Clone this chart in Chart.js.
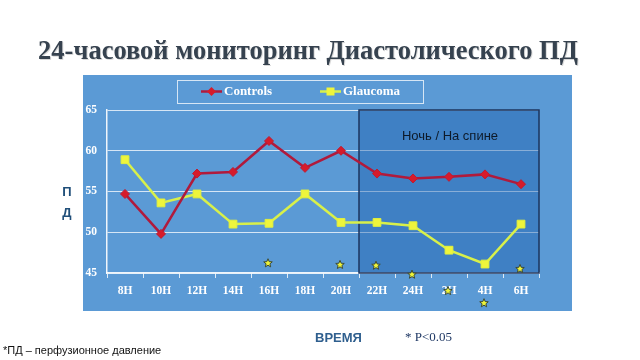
<!DOCTYPE html>
<html>
<head>
<meta charset="utf-8">
<script src="https://cdn.jsdelivr.net/npm/chart.js@4/dist/chart.umd.min.js"></script>
<style>
  html, body { margin: 0; padding: 0; background: #fff; }
  #wrap { width: 640px; height: 360px; position: relative; }
</style>
</head>
<body>
<div id="wrap"><canvas id="chartDPD" width="640" height="360"></canvas></div>
<script>
const hours = ['8H', '10H', '12H', '14H', '16H', '18H', '20H', '22H', '24H', '2H', '4H', '6H'];
const controls = [54.7, 49.8, 57.2, 57.4, 61.2, 57.9, 60.0, 57.2, 56.6, 56.8, 57.1, 55.9];
const glaucoma = [58.9, 53.6, 54.7, 51.0, 51.1, 54.7, 51.2, 51.2, 50.8, 47.8, 46.1, 51.0];
// звёздочки p<0.05 (положение по оси Y, как на слайде)
const starMarks = [null, null, null, null, 46.2, null, 46.0, 45.9, 44.8, 42.8, 41.3, 45.5];
const yTicks = [45, 50, 55, 60, 65];
const nightFrom = '20H';

// жёлтая звёздочка с тёмным контуром
function drawStar(g, cx, cy, r) {
  g.beginPath();
  for (let i = 0; i < 10; i++) {
    const rad = i % 2 ? r * 0.45 : r;
    const a = -Math.PI / 2 + i * Math.PI / 5;
    g.lineTo(cx + rad * Math.cos(a), cy + rad * Math.sin(a));
  }
  g.closePath();
  g.fillStyle = '#ecf33a';
  g.fill();
  g.strokeStyle = '#3a4a3a';
  g.lineWidth = 1;
  g.stroke();
}

const slide = {
  id: 'slide',
  beforeDraw(chart) {
    const c = chart.ctx;
    c.save();
    c.fillStyle = '#5b9ad5';
    c.fillRect(83, 75, 489, 236);

    // заголовок
    c.font = 'bold 26.5px "Liberation Serif", "DejaVu Serif", serif';
    c.textAlign = 'center';
    c.textBaseline = 'alphabetic';
    c.fillStyle = 'rgba(0,0,0,0.15)';
    c.fillText('24-часовой мониторинг Диастолического ПД', 309, 60);
    c.fillStyle = '#36424f';
    c.fillText('24-часовой мониторинг Диастолического ПД', 308, 59);

    // подпись оси Y
    c.font = 'bold 13px "Liberation Sans", Arial, sans-serif';
    c.fillStyle = '#1f4e79';
    c.textBaseline = 'middle';
    c.fillText('П', 67, 192);
    c.fillText('Д', 67, 213);

    c.font = 'bold 13px "Liberation Sans", Arial, sans-serif';
    c.fillStyle = '#2f5f8e';
    c.textAlign = 'left';
    c.fillText('ВРЕМЯ', 315, 338);
    c.font = '13px "Liberation Serif", serif';
    c.fillStyle = '#1f3864';
    c.fillText('* P<0.05', 405, 338);
    c.font = '11px "Liberation Sans", Arial, sans-serif';
    c.fillStyle = '#111';
    c.fillText('*ПД – перфузионное давление', 3, 351);

    // легенда
    c.strokeStyle = 'rgba(255,255,255,0.75)';
    c.lineWidth = 1;
    c.strokeRect(177.5, 80.5, 246, 23);
    const ds = chart.data.datasets;
    const items = [[201, ds[0]], [320, ds[1]]];
    items.forEach(([lx, d]) => {
      c.strokeStyle = d.borderColor;
      c.lineWidth = 2.5;
      c.beginPath(); c.moveTo(lx, 91.5); c.lineTo(lx + 21, 91.5); c.stroke();
      c.fillStyle = d.pointBackgroundColor;
      if (d.pointStyle === 'rectRot') {
        c.beginPath();
        c.moveTo(lx + 10.5, 87); c.lineTo(lx + 15, 91.5); c.lineTo(lx + 10.5, 96); c.lineTo(lx + 6, 91.5);
        c.closePath(); c.fill();
      } else {
        c.fillRect(lx + 6.5, 87.5, 8, 8);
      }
      c.font = 'bold 13px "Liberation Serif", serif';
      c.fillStyle = '#fff';
      c.textAlign = 'left';
      c.fillText(d.label, lx + 23, 92);
    });
    c.restore();
  },
  beforeDatasetsDraw(chart) {
    const c = chart.ctx, x = chart.scales.x, a = chart.chartArea;
    const i = hours.indexOf(nightFrom);
    const left = (x.getPixelForValue(i) + x.getPixelForValue(i + 1)) / 2;
    const right = a.right;
    c.save();
    c.fillStyle = 'rgba(22,90,170,0.4)';
    c.fillRect(left, a.top, right - left, a.bottom - a.top);
    c.strokeStyle = '#1d355e';
    c.lineWidth = 1.5;
    c.strokeRect(left, a.top, right - left, a.bottom - a.top);
    c.font = '13px "Liberation Sans", Arial, sans-serif';
    c.fillStyle = '#0d1a2a';
    c.textAlign = 'center';
    c.textBaseline = 'middle';
    c.fillText('Ночь / На спине', (left + right) / 2 + 1, 136);
    c.restore();
  },
  afterDatasetsDraw(chart) {
    // звёздочки рисуются через шкалы, в т.ч. ниже оси X
    const c = chart.ctx, x = chart.scales.x, y = chart.scales.y;
    c.save();
    starMarks.forEach((v, i) => {
      if (v === null) return;
      drawStar(c, x.getPixelForValue(i) - 1, y.getPixelForValue(v), 4.5);
    });
    c.restore();
  }
};

const serifBold = { family: '"Liberation Serif", "Times New Roman", serif', weight: 'bold', size: 11.5 };

new Chart(document.getElementById('chartDPD').getContext('2d'), {
  type: 'line',
  data: {
    labels: hours,
    datasets: [
      {
        label: 'Controls',
        data: controls,
        borderColor: '#b01a3c',
        borderWidth: 2.5,
        pointStyle: 'rectRot',
        pointRadius: 4.5,
        pointBackgroundColor: '#d61b2b',
        pointBorderColor: '#c2192f',
        pointBorderWidth: 1,
        tension: 0
      },
      {
        label: 'Glaucoma',
        data: glaucoma,
        borderColor: '#d8f04a',
        borderWidth: 2.5,
        pointStyle: 'rect',
        pointRadius: 5.5,
        pointBackgroundColor: '#eef53c',
        pointBorderColor: '#e2f03c',
        pointBorderWidth: 1,
        tension: 0
      }
    ]
  },
  options: {
    responsive: false,
    animation: false,
    layout: { padding: { left: 0, top: 110, right: 101, bottom: 0 } },
    plugins: { legend: { display: false }, tooltip: { enabled: false } },
    scales: {
      x: {
        offset: true,
        afterFit(s) { s.height = 87; },
        grid: { offset: true, drawOnChartArea: false, drawTicks: true, tickLength: 5, tickColor: 'rgba(255,255,255,0.8)' },
        border: { color: 'rgba(255,255,255,0.9)', width: 1.5 },
        ticks: { color: '#fff', font: serifBold, padding: 6, maxRotation: 0 }
      },
      y: {
        min: yTicks[0],
        max: yTicks[yTicks.length - 1],
        afterFit(s) { s.width = 107; },
        afterBuildTicks(s) { s.ticks = yTicks.map(v => ({ value: v })); },
        grid: { color: 'rgba(255,255,255,0.75)', lineWidth: 1, drawTicks: false },
        border: { color: 'rgba(255,255,255,0.9)', width: 1.5 },
        ticks: { color: '#fff', font: serifBold, padding: 10 }
      }
    }
  },
  plugins: [slide]
});
</script>
</body>
</html>
